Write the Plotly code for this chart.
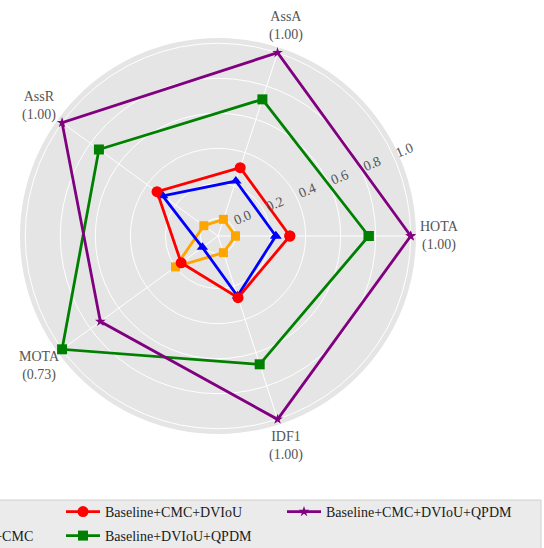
import math
import plotly.graph_objects as go

categories = ["HOTA", "AssA", "AssR", "MOTA", "IDF1"]
tick_labels = ["HOTA<br>(1.00)", "AssA<br>(1.00)", "AssR<br>(1.00)", "MOTA<br>(0.73)", "IDF1<br>(1.00)"]

series_names = [
    "Baseline",
    "Baseline+CMC",
    "Baseline+CMC+DVIoU",
    "Baseline+DVIoU+QPDM",
    "Baseline+CMC+DVIoU+QPDM",
]
baseline = [0.0, 0.0, 0.0, 0.20, 0.0]
baseline_cmc = [0.23, 0.23, 0.29, 0.01, 0.26]
baseline_cmc_dviou = [0.31, 0.31, 0.33, 0.16, 0.27]
baseline_dviou_qpdm = [0.76, 0.72, 0.74, 1.0, 0.67]
baseline_full = [1.0, 1.0, 1.0, 0.73, 1.0]

series_values = [baseline, baseline_cmc, baseline_cmc_dviou, baseline_dviou_qpdm, baseline_full]
colors = ["orange", "blue", "red", "green", "purple"]
symbols = ["square", "triangle-up", "circle", "square", "star"]
msizes = [9, 10, 11, 10, 8]

radial_ticks = [0.0, 0.2, 0.4, 0.6, 0.8, 1.0]

FONT = "Liberation Serif, Times New Roman, serif"
W, H = 544, 548
cx, cy, R = 218, 236, 198

# legend grid (matplotlib-like, 3 columns filled column-wise)
leg_x = [-98, -98, 61, 61, 282]
leg_y = [512, 536, 512, 536, 512]

fig = go.Figure()
legend_layouts = {}
for i, (name, vals, c, s, ms) in enumerate(zip(series_names, series_values, colors, symbols, msizes)):
    lname = "legend" if i == 0 else f"legend{i + 1}"
    fig.add_trace(go.Scatterpolar(
        r=vals + vals[:1],
        theta=categories + categories[:1],
        mode="lines+markers",
        name=name,
        line=dict(color=c, width=2.8),
        marker=dict(color=c, symbol=s, size=ms),
        legend=lname,
    ))
    legend_layouts[lname] = dict(
        x=leg_x[i] / W, xanchor="left", y=1 - leg_y[i] / H, yanchor="middle",
        bgcolor="rgba(0,0,0,0)", borderwidth=0, itemwidth=34,
        font=dict(family=FONT, size=14, color="#1a1a1a"),
    )

annotations = []
for k, lab in enumerate(tick_labels):
    ang = math.radians(72 * k)
    px = cx + 221 * math.cos(ang)
    py = cy - 221 * math.sin(ang)
    annotations.append(dict(
        x=px / W, y=1 - py / H, xref="paper", yref="paper",
        text=lab, showarrow=False, align="center",
        xanchor="center", yanchor="middle",
        font=dict(family=FONT, size=14, color="#555555"),
    ))

pad = "\u00a0" * 7
fig.update_layout(
    width=W, height=H,
    margin=dict(l=0, r=0, t=0, b=0, autoexpand=False),
    paper_bgcolor="white",
    font=dict(family=FONT, size=14, color="#555555"),
    polar=dict(
        domain=dict(x=[(cx - R) / W, (cx + R) / W], y=[1 - (cy + R) / H, 1 - (cy - R) / H]),
        bgcolor="#e5e5e5",
        angularaxis=dict(
            rotation=0, direction="counterclockwise",
            showticklabels=False,
            gridcolor="white", gridwidth=1, showline=False, ticks="",
        ),
        radialaxis=dict(
            range=[-0.1, 1.03], tickvals=radial_ticks,
            ticktext=[pad + f"{t:.1f}" for t in radial_ticks],
            angle=22.5, tickangle=0, side="counterclockwise",
            showline=False, ticks="",
            gridcolor="white", gridwidth=1,
            tickfont=dict(family=FONT, size=14, color="#555555"),
        ),
    ),
    annotations=annotations,
    shapes=[dict(
        type="rect", xref="paper", yref="paper",
        x0=-0.2, x1=541 / W, y0=-0.2, y1=1 - 500 / H,
        fillcolor="#ebebeb", line=dict(color="#cfcfcf", width=1), layer="below",
    )],
    showlegend=True,
    **legend_layouts,
)

fig.write_html("out.html", config={"displayModeBar": False},
               post_script="document.body.style.margin='0';")
